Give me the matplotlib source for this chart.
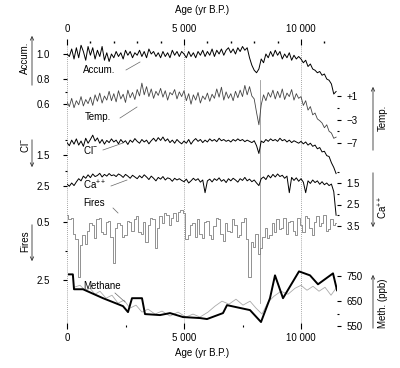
import numpy as np
import matplotlib.pyplot as plt

plt.rcParams['font.family'] = ['Liberation Sans', 'DejaVu Sans']
plt.rcParams['mathtext.default'] = 'regular'
plt.rcParams['font.size'] = 7

# ---- data (100-yr steps, 0 .. 11500 yr B.P.) ----
step = 100

accum = [
    1.00, 0.98, 1.04, 0.96, 1.05, 0.97, 1.07, 1.02, 0.95, 1.06,
    0.99, 1.05, 0.96, 1.03, 0.98, 1.06, 0.95, 1.01, 0.94, 1.00,
    0.97, 1.02, 0.98, 1.01, 0.96, 1.03, 0.99, 1.02, 0.97, 1.01,
    0.99, 1.03, 0.98, 1.02, 0.97, 1.04, 1.00, 1.02, 0.98, 1.01,
    0.97, 1.02, 0.98, 1.01, 0.97, 1.03, 0.99, 1.02, 0.98, 1.02,
    1.00, 0.97, 1.02, 0.98, 1.01, 0.97, 1.02, 0.99, 1.03, 0.98,
    1.02, 0.99, 1.04, 0.98, 1.03, 1.00, 1.04, 0.99, 1.03, 1.05,
    1.01, 1.04, 1.00, 1.05, 1.02, 1.06, 1.03, 1.05, 0.97, 0.91,
    0.87, 0.85, 0.88, 0.96, 0.93, 1.00, 0.97, 1.02, 0.98, 1.03,
    0.99, 1.02, 0.96, 1.00, 0.97, 1.01, 0.95, 0.99, 0.96, 0.98,
    0.96, 0.93, 0.95, 0.90, 0.92, 0.88, 0.87, 0.85, 0.86, 0.83,
    0.84, 0.80, 0.79, 0.76, 0.68, 0.70]

temp = [
    0.0, -0.8, 0.6, -1.0, 0.2, -0.5, 0.9, -0.7, 0.4, -0.3,
    0.8, -0.6, 1.2, 0.1, 1.5, -0.2, 1.0, 0.3, 1.8, 0.2,
    1.4, 0.0, 1.9, 0.5, 1.3, -0.1, 2.0, 0.7, 1.6, 0.4,
    2.1, 1.0, 3.2, 1.2, 2.6, 0.9, 2.2, 0.6, 1.8, 1.1,
    2.3, 0.8, 1.9, 0.3, 1.6, 1.2, 2.1, 0.5, 1.7, 0.9,
    1.9, 0.2, 1.4, -0.4, 1.2, 0.3, 1.6, -0.2, 1.0, 0.4,
    1.5, 0.1, 1.3, 0.6, 2.2, 0.8, 2.5, 0.3, 1.7, 0.6,
    1.4, 0.2, 1.8, 0.7, 2.0, 0.9, 2.8, 1.2, 2.6, 1.0,
    0.5, -1.8, -3.9, -0.5, 1.2, 0.2, 1.6, 0.8, 2.0, 0.5,
    1.8, 0.7, 2.2, 0.4, 1.5, 0.9, 2.1, 0.3, 1.4, 0.6,
    0.9, -0.6, 0.2, -1.4, -0.8, -2.2, -1.9, -2.9, -3.2, -3.6,
    -4.4, -3.9, -5.0, -5.3, -6.2, -6.0]

cl = [
    1.10, 1.20, 1.02, 1.15, 0.98, 1.18, 1.05, 1.22, 0.96, 1.12,
    1.00, 0.86, 1.05, 0.95, 1.12, 1.00, 1.15, 1.03, 1.10, 0.98,
    1.08, 1.02, 1.14, 1.00, 1.10, 1.04, 1.16, 1.02, 1.09, 0.97,
    1.06, 1.12, 1.00, 1.08, 1.02, 1.14, 1.04, 0.96, 1.06, 0.94,
    1.03, 0.92, 1.05, 0.98, 1.10, 1.02, 1.12, 1.00, 1.08, 1.14,
    1.05, 1.12, 1.00, 1.15, 1.04, 0.97, 1.06, 1.00, 1.10, 1.02,
    1.08, 0.98, 1.05, 1.00, 1.07, 0.96, 1.04, 1.00, 1.06, 1.02,
    1.08, 1.00, 1.05, 0.98, 1.04, 1.00, 1.07, 1.02, 1.06, 1.10,
    1.04, 1.20, 1.45, 1.05, 1.10, 1.00, 1.06, 0.98, 1.04, 1.00,
    1.06, 0.96, 1.04, 1.00, 1.08, 1.02, 1.10, 1.04, 1.08, 1.12,
    1.06, 1.14, 1.08, 1.18, 1.12, 1.22, 1.18, 1.30, 1.26, 1.40,
    1.38, 1.52, 1.55, 1.75, 1.90, 2.10]

ca = [
    1.55, 1.65, 1.50, 1.62, 1.45, 1.30, 1.40, 1.18, 1.28, 1.12,
    1.25, 1.08, 1.20, 1.15, 1.05, 1.22, 1.10, 1.18, 1.06, 1.16,
    1.12, 1.20, 1.08, 1.14, 1.24, 1.10, 1.18, 1.28, 1.14, 1.22,
    1.30, 1.16, 1.26, 1.12, 1.22, 1.34, 1.18, 1.28, 1.40, 1.24,
    1.32, 1.20, 1.36, 1.26, 1.30, 1.42, 1.28, 1.36, 1.30, 1.38,
    1.44, 1.32, 1.50, 1.40, 1.28, 1.38, 1.30, 1.46, 1.36, 1.95,
    1.40, 1.32, 1.45, 1.30, 1.38, 1.26, 1.42, 1.34, 1.48, 1.30,
    1.40, 1.28, 1.36, 1.46, 1.30, 1.38, 1.24, 1.40, 1.32, 1.44,
    1.36, 1.50, 1.62, 1.30, 1.22, 1.34, 1.14, 1.26, 1.10, 1.22,
    1.08, 1.20, 1.14, 1.28, 1.18, 1.95, 1.24, 1.38, 1.26, 1.42,
    1.30, 1.46, 1.95, 1.40, 1.52, 1.36, 1.48, 1.40, 1.56, 1.44,
    1.58, 1.50, 1.62, 1.55, 1.90, 3.00]

fires = [
    0.25, 0.40, 0.35, 0.90, 1.10, 2.40, 1.30, 0.95, 1.25, 0.80,
    0.55, 0.60, 1.05, 0.40, 0.35, 0.85, 0.90, 0.50, 0.45, 1.00,
    1.90, 0.70, 0.55, 0.60, 1.00, 0.95, 0.45, 0.50, 0.80, 0.40,
    0.30, 0.85, 0.90, 0.50, 1.20, 0.60, 0.35, 0.40, 1.40, 0.70,
    0.30, 0.55, 0.20, 0.25, 0.60, 0.35, 0.20, 0.45, 0.15, 0.10,
    0.20, 1.10, 0.95, 0.60, 0.55, 1.00, 0.40, 0.90, 1.05, 0.50,
    0.45, 0.95, 1.10, 0.65, 0.35, 0.40, 0.90, 1.15, 0.55, 0.80,
    0.85, 0.40, 0.60, 1.00, 0.95, 0.50, 0.35, 1.10, 2.40, 1.20,
    1.35, 0.90, 1.60, 1.40, 1.00, 0.70, 1.05, 0.95, 0.55, 0.85,
    0.40, 0.75, 0.70, 0.35, 0.90, 0.50, 0.45, 0.80, 0.95, 0.35,
    0.60, 0.85, 0.30, 0.35, 0.70, 0.95, 0.50, 0.30, 0.65, 0.55,
    0.25, 0.80, 0.75, 0.40, 0.60, 0.55]

# methane (ppb): thick black line and thin grey line
meth_yr = [85, 250, 300, 684, 1539, 2393, 2607, 2778, 3205, 3333, 3975, 4402,
           4957, 5684, 5983, 6667, 6838, 7821, 8291, 8675, 8889, 9231, 9915,
           10385, 10726, 11368, 11539]
meth_ppb = [758, 758, 698, 698, 662, 630, 606, 662, 662, 598, 594, 602,
            586, 582, 578, 602, 634, 614, 566, 662, 754, 662, 770,
            754, 718, 762, 694]

meth2_yr = [300, 555, 770, 983, 1197, 1410, 1667, 1923, 2180, 2436, 2692, 2949,
            3205, 3462, 3761, 4060, 4402, 4744, 5085, 5385, 5684, 6026, 6325,
            6624, 6923, 7222, 7521, 7821, 8077, 8333, 8590, 8846, 9145, 9444,
            9744, 10000, 10256, 10513, 10769, 11026, 11282, 11496]
meth2_ppb = [706, 714, 694, 702, 678, 690, 662, 674, 642, 654, 622, 634,
             606, 618, 598, 610, 590, 606, 586, 598, 586, 606, 630,
             650, 638, 658, 634, 650, 622, 598, 646, 670, 690, 678,
             702, 714, 694, 710, 690, 706, 674, 702]

event_year = 8250

years = np.arange(len(accum)) * step

# ---- layout (image pixels, y down) ----
W, H = 400, 368
X0, X1 = 67, 337          # age 0 / right edge of plot
TOP, BOT = 42, 326
PX_PER_YR = 117 / 5000.0

fig = plt.figure(figsize=(W / 100, H / 100), dpi=100)
rect = [X0 / W, 1 - BOT / H, (X1 - X0) / W, (BOT - TOP) / H]
xlim = (0, (X1 - X0) / PX_PER_YR)


def fp(x, y):
    return (x, H - y)


def series_axes(cal, side):
    ax = fig.add_axes(rect, frameon=False)
    (v1, p1), (v2, p2) = cal
    slope = (v2 - v1) / (p2 - p1)
    ax.set_ylim(v1 + (BOT - p1) * slope, v1 + (TOP - p1) * slope)
    ax.set_xlim(*xlim)
    ax.tick_params(axis='x', which='both', bottom=False, top=False,
                   labelbottom=False)
    ax.yaxis.set_ticks_position(side)
    pad = 9.5 if side == 'left' else 4
    ax.tick_params(axis='y', which='major', direction='out', length=3,
                   width=0.8, pad=pad, labelsize=7)
    ax.tick_params(axis='y', which='minor', direction='out', length=1.2,
                   width=0.8)
    return ax


# base axes: age axis and guide lines
base = fig.add_axes(rect, frameon=False)
base.set_xlim(*xlim)
base.set_ylim(0, 1)
base.set_yticks([])
base.set_xticks([0, 5000, 10000], labels=['0', '5 000', '10 000'])
base.set_xticks([2500, 7500], minor=True)
base.tick_params(axis='x', which='major', direction='inout', length=4,
                 width=0.8, pad=3)
base.tick_params(axis='x', which='minor', direction='inout', length=1.5,
                 width=0.8)
base.set_xlabel('Age (yr B.P.)', labelpad=4)
for yr in [0, 5000, 10000]:
    base.axvline(yr, ymin=0.015, ymax=0.99, color='#888888', lw=0.6,
                 ls=(0, (1, 1.5)))
base.axvline(event_year, ymin=(BOT - 303) / (BOT - TOP),
             ymax=(BOT - 80) / (BOT - TOP), color='#999999', lw=0.6)

top = base.secondary_xaxis('top')
top.set_xticks([0, 5000, 10000], labels=['0', '5 000', '10 000'])
top.set_xticks([1000, 2000, 3000, 4000, 6000, 7000, 8000, 9000, 11000],
               minor=True)
top.tick_params(axis='x', which='major', direction='inout', length=4,
                width=0.8, pad=4)
top.tick_params(axis='x', which='minor', direction='inout', length=1.5,
                width=1.0)
top.set_xlabel('Age (yr B.P.)', labelpad=8)
for s in top.spines.values():
    s.set_visible(False)

# Accumulation
ax = series_axes([(1.0, 54), (0.6, 104)], 'left')
ax.plot(years, accum, color='black', lw=0.7)
ax.set_yticks([1.0, 0.8, 0.6], labels=['1.0', '0.8', '0.6'])
ax.set_yticks([0.7], minor=True)

# Temperature
ax = series_axes([(1, 96), (-7, 143)], 'right')
ax.plot(years, temp, color='#444444', lw=0.6)
ax.set_yticks([1, -3, -7], labels=['+1', '\u22123', '\u22127'])
ax.set_yticks([-1, -5], minor=True)

# Chloride
ax = series_axes([(1.5, 155), (2.5, 186)], 'left')
ax.plot(years, cl, color='black', lw=0.7)
ax.set_yticks([1.5, 2.5], labels=['1.5', '2.5'])
ax.set_yticks([1.0, 2.0], minor=True)

# Calcium
ax = series_axes([(1.5, 183), (3.5, 226)], 'right')
ax.plot(years, ca, color='black', lw=0.7)
ax.set_yticks([1.5, 2.5, 3.5], labels=['1.5', '2.5', '3.5'])
ax.set_yticks([1.0, 2.0, 3.0], minor=True)

# Fires
ax = series_axes([(0.5, 222), (2.5, 280)], 'left')
ax.plot(years, fires, color='#808080', lw=0.6, drawstyle='steps-mid')
ax.set_yticks([0.5, 2.5], labels=['0.5', '2.5'])
ax.set_yticks([1.5], minor=True)

# Methane
ax = series_axes([(750, 278), (550, 328)], 'right')
ax.plot(meth2_yr, meth2_ppb, color='#aaaaaa', lw=0.6)
ax.plot(meth_yr, meth_ppb, color='black', lw=1.4)
ax.set_yticks([750, 650, 550], labels=['750', '650', '550'])
ax.set_yticks([600], minor=True)

# side labels with arrows
side_labels = [
    ('Accum.', 25, 58, 32, 88, 33),
    ('Cl$^{-}$', 25, 146, 32, 137, 170),
    ('Fires', 25, 241, 32, 222, 264),
    ('Temp.', 383, 118, 373, 153, 84),
    ('Ca$^{++}$', 383, 207, 373, 170, 230),
    ('Meth. (ppb)', 383, 303, 373, 331, 272),
]
for txt, tx, ty, ax_x, y_tail, y_tip in side_labels:
    fig.text(tx / W, 1 - ty / H, txt, rotation=90, ha='center', va='center',
             fontsize=7)
    fig.add_artist(plt.matplotlib.patches.FancyArrowPatch(
        fp(ax_x, y_tail), fp(ax_x, y_tip), transform=None,
        arrowstyle='->,head_length=2.5,head_width=1.2', lw=0.6,
        color='#333333', mutation_scale=1))

# in-plot labels with leader lines
inline_labels = [
    ('Accum.', 83, 70, (126, 70), (140, 62)),
    ('Temp.', 85, 117, (120, 118), (137, 107)),
    ('Cl$^{-}$', 83, 150, (103, 150), (123, 143)),
    ('Ca$^{++}$', 83, 185, (111, 186), (127, 180)),
    ('Fires', 83, 203, (113, 208), (118, 213)),
    ('Methane', 83, 286, (115, 293), (125, 302)),
]
for txt, tx, ty, p0, p1 in inline_labels:
    fig.text(tx / W, 1 - ty / H, txt, ha='left', va='center', fontsize=7)
    fig.add_artist(plt.Line2D([p0[0] / W, p1[0] / W],
                              [1 - p0[1] / H, 1 - p1[1] / H],
                              color='#666666', lw=0.5))

fig.savefig('out.png', dpi=100)
